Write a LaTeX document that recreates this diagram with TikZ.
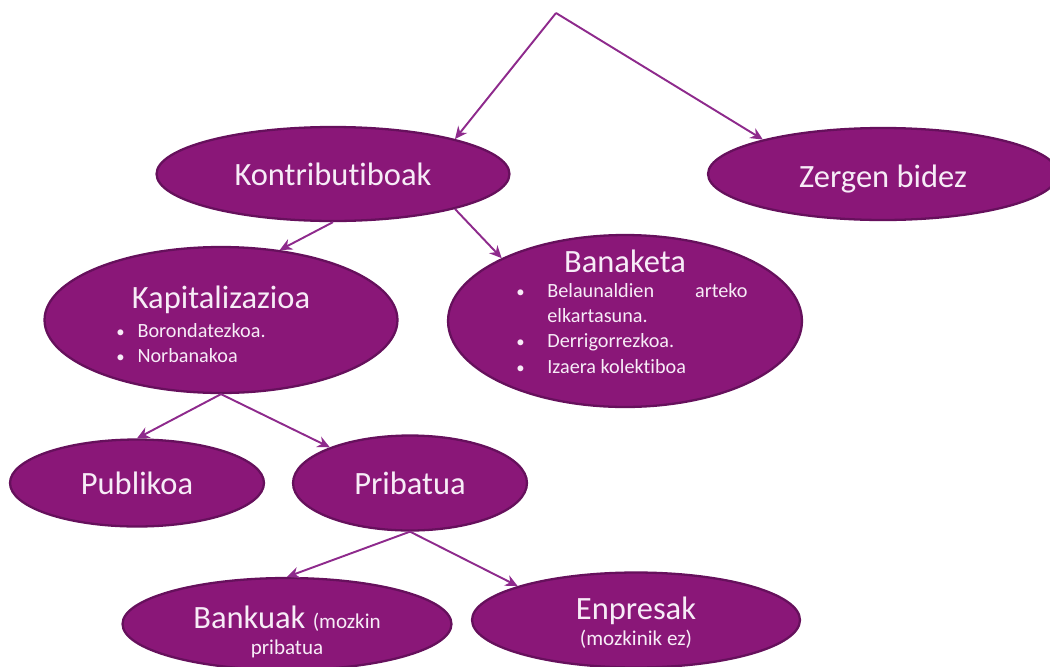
\documentclass[tikz,border=0pt]{standalone}
\usepackage{fontspec}
\setmainfont[Ligatures=NoCommon]{Carlito}
\usetikzlibrary{arrows.meta,shapes.geometric}
\definecolor{plum}{HTML}{8A1778}
\definecolor{plumedge}{HTML}{66105C}
\definecolor{plumline}{HTML}{8E2A8C}
\definecolor{lilac}{HTML}{F7ECF7}
\newcommand{\itemfont}{\fontsize{11.5}{14.4}\selectfont}
\newcommand{\notefont}{\fontsize{12}{14}\selectfont}
\newcommand{\dotitem}{{\fontsize{9.5}{9.5}\selectfont\textbullet}}

\begin{document}
\begin{tikzpicture}[x=0.02cm,y=-0.02cm,
  oval/.style={ellipse,draw=plumedge,line width=1.3pt,fill=plum,text=lilac,
    inner sep=-12pt,align=center,font=\fontsize{18.5}{22}\selectfont},
  arr/.style={-{Stealth[length=7pt,width=6.5pt]},plumline,line width=1.1pt}]
\useasboundingbox (0,0) rectangle (1050,666);
\coordinate (goi) at (556,13);
\node[oval,minimum width=7.06cm,minimum height=1.88cm] (kontr) at (333,174) {Kontributiboak};
\node[oval,minimum width=7.0cm,minimum height=1.84cm] (zerga) at (883,174) {Zergen bidez\rule{0pt}{18pt}};
\node[oval,minimum width=7.06cm,minimum height=2.92cm] (kapit) at (221,320) {Kapitalizazioa\rule{0pt}{22pt}\\[-5.5pt]
  {\itemfont\begin{tabular}[t]{@{}p{12pt}@{}p{107pt}@{}}
  \dotitem & Borondatezkoa.\\
  \dotitem & Norbanakoa
  \end{tabular}}};
\node[oval,minimum width=7.08cm,minimum height=3.44cm] (banak) at (625,321) {Banaketa\\[-7.8pt]
  {\itemfont\begin{tabular}[t]{@{\hspace{8pt}}p{17.6pt}@{}p{114pt}@{}}
  \dotitem & \makebox[114pt][s]{Belaunaldien arteko}\\
   & elkartasuna.\\
  \dotitem & Derrigorrezkoa.\\
  \dotitem & Izaera kolektiboa\rule[-10.8pt]{0pt}{0pt}
  \end{tabular}}};
\node[oval,minimum width=5.08cm,minimum height=1.74cm] (publ) at (137,483) {Publikoa};
\node[oval,minimum width=4.68cm,minimum height=1.9cm] (prib) at (410,483) {Pribatua};
\node[oval,minimum width=6.58cm,minimum height=1.84cm] (banku) at (287,624) {Bankuak\rule{0pt}{22pt} {\notefont(mozkin}\\[-7pt]{\notefont pribatua}};
\node[oval,minimum width=6.56cm,minimum height=1.9cm] (enpr) at (636,620) {Enpresak\rule{0pt}{16pt}\\[-7pt]{\notefont(mozkinik ez)}};
\draw[arr] (goi) -- (kontr.16);
\draw[arr] (goi) -- (zerga.164);
\draw[arr] (kontr.south) -- (kapit.50);
\draw[arr] (kontr.-16) -- (banak.153);
\draw[arr] (kapit.south) -- (publ.north);
\draw[arr] (kapit.south) -- (prib.156);
\draw[arr] (prib.south) -- (banku.north);
\draw[arr] (prib.south) -- (enpr.164);
\end{tikzpicture}
\end{document}
